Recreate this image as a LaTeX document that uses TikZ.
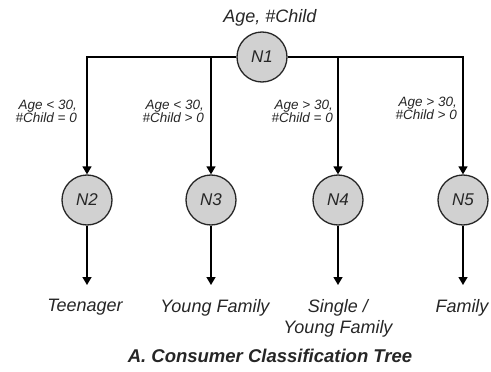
\documentclass[tikz,border=0pt]{standalone}
\usepackage{fontspec}
\setmainfont{Liberation Sans}
\usetikzlibrary{arrows.meta}
\begin{document}
\begin{tikzpicture}[x=1pt,y=-1pt,
  treenode/.style={circle,draw=black!85,line width=1.3pt,fill=black!18,minimum size=50pt,inner sep=0pt,font=\fontsize{17}{19}\selectfont\itshape,text=black!85},
  conn/.style={draw=black,line width=1.4pt},
  arr/.style={conn,-{Triangle[length=8pt,width=9pt]}},
  leaf/.style={anchor=north,inner sep=0pt,align=center,font=\fontsize{18}{21}\selectfont\itshape,text=black!85},
  cond/.style={anchor=north east,inner sep=0pt,align=right,font=\fontsize{13.5}{13}\selectfont\itshape,text=black!85}
]
\useasboundingbox (0,0) rectangle (491,372);
\node[treenode] (n1) at (262,57) {N1};
\node[treenode] (n2) at (87,200) {N2};
\node[treenode] (n3) at (211,200) {N3};
\node[treenode] (n4) at (338,200) {N4};
\node[treenode] (n5) at (463,200) {N5};
\node[anchor=base,inner sep=0pt,font=\fontsize{18}{21}\selectfont\itshape,text=black!85] (attr) at (270,23) {Age, \#Child};
\draw[arr] (n1) -| (n2);
\draw[arr] (n1) -| (n3);
\draw[arr] (n1) -| (n4);
\draw[arr] (n1) -| (n5);
\node[cond] (c2) at (77,100) {Age < 30,\\\#Child = 0};
\node[cond] (c3) at (204,100) {Age < 30,\\\#Child > 0};
\node[cond] (c4) at (333,100) {Age > 30,\\\#Child = 0};
\node[cond] (c5) at (457,97) {Age > 30,\\\#Child > 0};
\node[leaf] (t2) at (85,299) {Teenager};
\node[leaf] (t3) at (215,299) {Young Family};
\node[leaf] (t4) at (338,299) {Single /\\Young Family};
\node[leaf] (t5) at (462,299) {Family};
\draw[arr,shorten >=14pt] (n2) -- (n2 |- t2.north);
\draw[arr,shorten >=14pt] (n3) -- (n3 |- t3.north);
\draw[arr,shorten >=14pt] (n4) -- (n4 |- t4.north);
\draw[arr,shorten >=14pt] (n5) -- (n5 |- t5.north);
\node[anchor=base,inner sep=0pt,font=\fontsize{18.5}{21}\selectfont\bfseries\itshape,text=black!85] (title) at (270,362) {A. Consumer Classification Tree};
\end{tikzpicture}
\end{document}
